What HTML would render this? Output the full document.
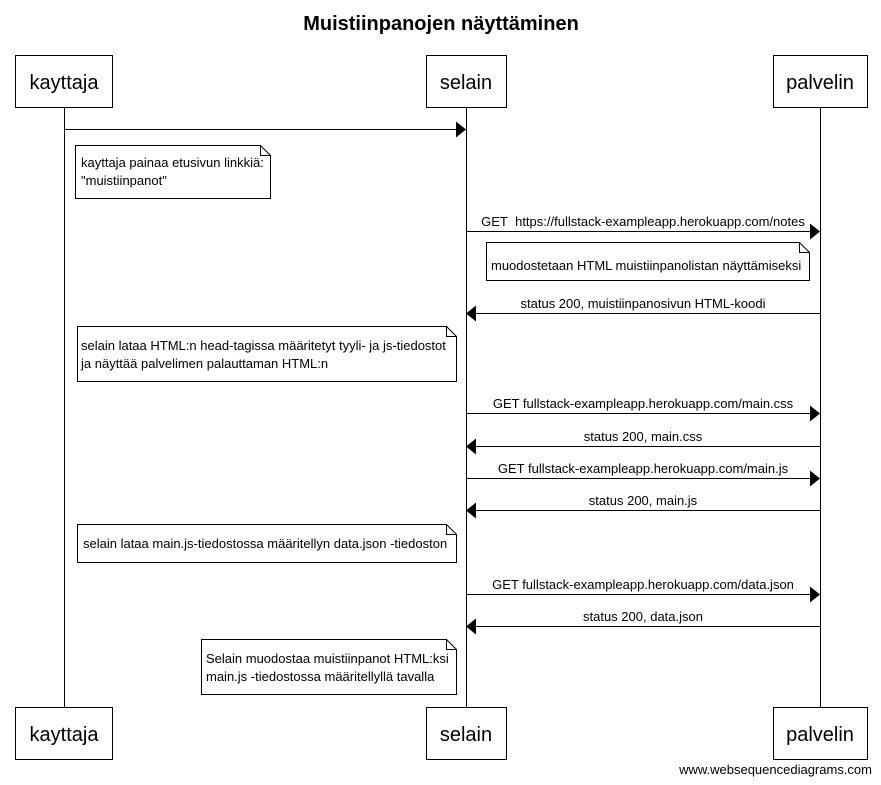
<!DOCTYPE html>
<html><head><meta charset="utf-8"><style>
html,body{margin:0;padding:0;background:#fff;}
svg{display:block;}
text{font-family:"Liberation Sans",Arial,sans-serif;fill:#000;}
</style></head><body>
<svg width="881" height="785" viewBox="0 0 881 785" xmlns="http://www.w3.org/2000/svg">
<rect width="881" height="785" fill="#fff"/>
<text x="441" y="30" font-size="20" font-weight="bold" text-anchor="middle">Muistiinpanojen näyttäminen</text>
<g stroke="#000" stroke-width="1" fill="none">
<line x1="64.5" y1="108" x2="64.5" y2="707"/>
<line x1="466.5" y1="108" x2="466.5" y2="707"/>
<line x1="820.5" y1="108" x2="820.5" y2="707"/>
<rect x="15.5" y="55.5" width="97" height="52" fill="#fff"/>
<rect x="426.5" y="55.5" width="80" height="52" fill="#fff"/>
<rect x="773.5" y="55.5" width="94" height="52" fill="#fff"/>
<rect x="15.5" y="707.5" width="97" height="52" fill="#fff"/>
<rect x="426.5" y="707.5" width="80" height="52" fill="#fff"/>
<rect x="773.5" y="707.5" width="94" height="52" fill="#fff"/>
<line x1="65" y1="129.5" x2="457" y2="129.5"/>
<line x1="466" y1="231.5" x2="811" y2="231.5"/>
<line x1="475" y1="313.5" x2="820" y2="313.5"/>
<line x1="466" y1="413.5" x2="811" y2="413.5"/>
<line x1="475" y1="446.5" x2="820" y2="446.5"/>
<line x1="466" y1="478.5" x2="811" y2="478.5"/>
<line x1="475" y1="510.5" x2="820" y2="510.5"/>
<line x1="466" y1="594.5" x2="811" y2="594.5"/>
<line x1="475" y1="626.5" x2="820" y2="626.5"/>
<path d="M75.5 145.5H260.5L270.5 155.5V198.5H75.5Z M260.5 145.5V155.5H270.5"/>
<path d="M486.5 242.5H799.5L809.5 252.5V280.5H486.5Z M799.5 242.5V252.5H809.5"/>
<path d="M77.5 326.5H446.5L456.5 336.5V381.5H77.5Z M446.5 326.5V336.5H456.5"/>
<path d="M77.5 524.5H446.5L456.5 534.5V562.5H77.5Z M446.5 524.5V534.5H456.5"/>
<path d="M201.5 639.5H446.5L456.5 649.5V694.5H201.5Z M446.5 639.5V649.5H456.5"/>
</g>
<g fill="#000">
<path d="M466 129.5L456 121.5V137.5Z"/>
<path d="M820 231.5L810 223.5V239.5Z"/>
<path d="M466 313.5L476 305.5V321.5Z"/>
<path d="M820 413.5L810 405.5V421.5Z"/>
<path d="M466 446.5L476 438.5V454.5Z"/>
<path d="M820 478.5L810 470.5V486.5Z"/>
<path d="M466 510.5L476 502.5V518.5Z"/>
<path d="M820 594.5L810 586.5V602.5Z"/>
<path d="M466 626.5L476 618.5V634.5Z"/>
</g>
<g font-size="20" text-anchor="middle">
<text x="64" y="89">kayttaja</text>
<text x="466" y="89">selain</text>
<text x="820" y="89">palvelin</text>
<text x="64" y="741">kayttaja</text>
<text x="466" y="741">selain</text>
<text x="820" y="741">palvelin</text>
</g>
<g font-size="13" text-anchor="middle">
<text x="643" y="226">GET&#160; https://fullstack-exampleapp.herokuapp.com/notes</text>
<text x="643" y="308">status 200, muistiinpanosivun HTML-koodi</text>
<text x="643" y="408">GET fullstack-exampleapp.herokuapp.com/main.css</text>
<text x="643" y="441">status 200, main.css</text>
<text x="643" y="473">GET fullstack-exampleapp.herokuapp.com/main.js</text>
<text x="643" y="505">status 200, main.js</text>
<text x="643" y="589">GET fullstack-exampleapp.herokuapp.com/data.json</text>
<text x="643" y="621">status 200, data.json</text>
</g>
<g font-size="13">
<text x="81" y="167">kayttaja painaa etusivun linkkiä:</text>
<text x="81" y="185">"muistiinpanot"</text>
<text x="491" y="270">muodostetaan HTML muistiinpanolistan näyttämiseksi</text>
<text x="81" y="350">selain lataa HTML:n head-tagissa määritetyt tyyli- ja js-tiedostot</text>
<text x="81" y="368">ja näyttää palvelimen palauttaman HTML:n</text>
<text x="83" y="548">selain lataa main.js-tiedostossa määritellyn data.json -tiedoston</text>
<text x="206" y="663">Selain muodostaa muistiinpanot HTML:ksi</text>
<text x="206" y="681">main.js -tiedostossa määritellyllä tavalla</text>
<text x="872" y="774" text-anchor="end">www.websequencediagrams.com</text>
</g>
</svg>
</body></html>
